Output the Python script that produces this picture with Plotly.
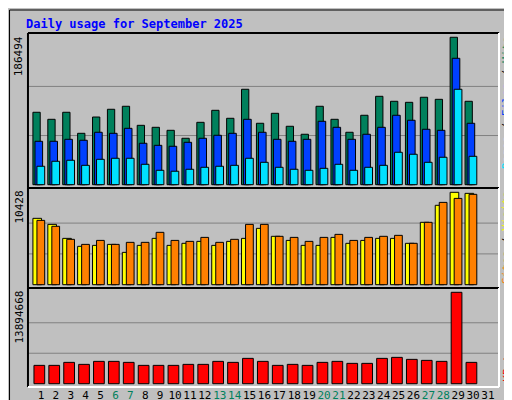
import plotly.graph_objects as go

days = list(range(1, 32))
weekend_days = [6, 7, 13, 14, 20, 21, 27, 28]

# Daily counts for September 2025 (day 31 has no data)
hits = [91600, 82700, 91600, 65000, 85600, 95400, 99200, 75100, 72600, 68800,
        58700, 78900, 94100, 84000, 120700, 77700, 90300, 73900, 63800, 99200,
        82700, 66300, 87800, 111800, 105500, 104200, 110600, 108000, 186494, 105500]
files = [54900, 54900, 57400, 56200, 66300, 65000, 71300, 52400, 49800, 48600,
         53600, 58700, 62500, 65000, 82700, 66300, 57400, 54900, 57400, 80200,
         72600, 57400, 63800, 72600, 87800, 81500, 70100, 68800, 159900, 77700]
pages = [23300, 29600, 30900, 24500, 32100, 33400, 33400, 25800, 18200, 17000,
         19500, 22000, 23300, 24500, 33400, 28300, 22000, 19500, 18200, 20700,
         25800, 18200, 22000, 24500, 41000, 38500, 28300, 34700, 120700, 35900]
visits = [7490, 6810, 5230, 4330, 4440, 4550, 3650, 4440, 5230, 4440,
          4670, 4890, 4440, 4890, 5230, 6360, 5460, 5000, 4440, 4440,
          5340, 4670, 5000, 5230, 5230, 4670, 7040, 8960, 10428, 10310]
sites = [7260, 6590, 5120, 4550, 5000, 4550, 4780, 4780, 5910, 5000,
         4890, 5340, 4780, 5120, 6810, 6810, 5460, 5340, 4890, 5340,
         5680, 5000, 5340, 5460, 5570, 4670, 7040, 9290, 9740, 10200]
kbytes = [2789000, 2789000, 3245000, 2941000, 3398000, 3398000, 3245000, 2789000, 2789000, 2789000,
          2941000, 2941000, 3398000, 3245000, 3854000, 3398000, 2789000, 2941000, 2789000, 3245000,
          3398000, 3093000, 3093000, 3854000, 4006000, 3702000, 3550000, 3398000, 13894668, 3245000]

max_hits = max(hits)
max_visits = max(visits)
max_kb = max(kbytes)

BG = "#C0C0C0"
font = "DejaVu Sans Mono"

fig = go.Figure()
d = days[:30]


def bars(y, color, offset, width, ax):
    fig.add_trace(go.Bar(x=d, y=y, offset=offset, width=width,
                         marker=dict(color=color, line=dict(color="black", width=1)),
                         xaxis="x" if ax == 1 else f"x{ax}",
                         yaxis="y" if ax == 1 else f"y{ax}"))


bars(hits, "#00805C", -0.54, 0.49, 1)
bars(files, "#0040FF", -0.40, 0.51, 1)
bars(pages, "#00E0FF", -0.27, 0.52, 1)
bars(visits, "#FFFF00", -0.54, 0.58, 2)
bars(sites, "#FF8000", -0.27, 0.52, 2)
bars(kbytes, "#FF0000", -0.47, 0.72, 3)

xr = [0.128, 31.74]
ticktext = [f"<span style='color:#00805C'>{x}</span>" if x in weekend_days else str(x) for x in days]
xcommon = dict(range=xr, showgrid=False, zeroline=False, fixedrange=True, automargin=False)
ycommon = dict(showgrid=False, zeroline=False, showticklabels=False, ticks="", automargin=False)

fig.update_layout(
    width=512, height=400, margin=dict(l=0, r=0, t=0, b=0, autoexpand=False),
    paper_bgcolor=BG, plot_bgcolor=BG, showlegend=False, barmode="overlay",
    font=dict(family=font, size=11, color="black"),
    xaxis=dict(domain=[0.039, 0.959], anchor="y", showticklabels=False, **xcommon),
    xaxis2=dict(domain=[0.039, 0.959], anchor="y2", showticklabels=False, **xcommon),
    xaxis3=dict(domain=[0.039, 0.959], anchor="y3", tickvals=days, ticktext=ticktext,
                tickangle=0, tickfont=dict(family=font, size=11), ticks="", **xcommon),
    yaxis=dict(domain=[0.55, 0.9375], range=[-4200, 191900], **ycommon),
    yaxis2=dict(domain=[0.30, 0.55], range=[-373, 10914], **ycommon),
    yaxis3=dict(domain=[0.0525, 0.30], range=[-500000, 14548000], **ycommon),
)

# grid lines at 1/3 and 2/3 of each panel maximum
for yref, xref, m in [("y", "x", max_hits), ("y2", "x2", max_visits), ("y3", "x3", max_kb)]:
    for f in (1 / 3, 2 / 3):
        fig.add_shape(type="line", xref=f"{xref} domain", yref=yref, x0=0, x1=1,
                      y0=m * f, y1=m * f, layer="below", line=dict(color="#808080", width=1))

# panel frames (inset look)
for y0, y1 in [(0.55, 0.9375), (0.30, 0.55), (0.0525, 0.30)]:
    fig.add_shape(type="line", xref="paper", yref="paper", x0=0.039, x1=0.039, y0=y0, y1=y1,
                  line=dict(color="black", width=2))
    fig.add_shape(type="line", xref="paper", yref="paper", x0=0.039, x1=0.959, y0=y1, y1=y1,
                  line=dict(color="black", width=2))
    fig.add_shape(type="line", xref="paper", yref="paper", x0=0.959, x1=0.959, y0=y0, y1=y1,
                  line=dict(color="white", width=2))
    fig.add_shape(type="line", xref="paper", yref="paper", x0=0.039, x1=0.959, y0=y0, y1=y0,
                  line=dict(color="white", width=2))

# outer frame
fig.add_shape(type="rect", xref="paper", yref="paper", x0=0.003, x1=0.99, y0=0.01, y1=0.995,
              line=dict(color="black", width=1))
fig.add_shape(type="line", xref="paper", yref="paper", x0=0.994, x1=0.994, y0=0.0, y1=0.985,
              line=dict(color="#808080", width=4))
fig.add_shape(type="line", xref="paper", yref="paper", x0=0.01, x1=0.995, y0=0.004, y1=0.004,
              line=dict(color="#808080", width=4))

fig.add_annotation(text="Daily usage for September 2025", xref="paper", yref="paper",
                   x=0.032, y=0.96, xanchor="left", yanchor="middle", showarrow=False,
                   font=dict(family=font, size=12, color="#0000FF", weight="bold"))

for label, ytop in [(f"{max_hits}", 0.935), (f"{max_visits}", 0.548), (f"{max_kb}", 0.298)]:
    fig.add_annotation(text=label, xref="paper", yref="paper", x=0.022, y=ytop,
                       textangle=-90, xanchor="center", yanchor="top", showarrow=False,
                       font=dict(family=font, size=11))

right = [
    ("<span style='color:#00E0FF'>Pages</span> / <span style='color:#0040FF'>Files</span>"
     " / <span style='color:#00805C'>Hits</span>", 0.935),
    ("<span style='color:#FF8000'>Sites</span> / <span style='color:#FFFF00'>Visits</span>", 0.548),
    ("<span style='color:#FF0000'>KBytes</span>", 0.17),
]
for label, ytop in right:
    fig.add_annotation(text=label, xref="paper", yref="paper", x=0.974, y=ytop,
                       textangle=-90, xanchor="center", yanchor="top", showarrow=False,
                       font=dict(family=font, size=11, color="black"))

fig.write_html("out.html")
